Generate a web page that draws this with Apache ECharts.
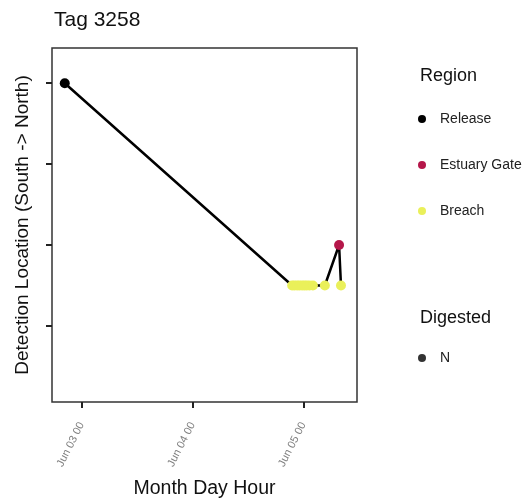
<!DOCTYPE html>
<html>
<head>
<meta charset="utf-8">
<script src="https://cdn.jsdelivr.net/npm/echarts@6/dist/echarts.min.js"></script>
<style>
html,body{margin:0;padding:0;background:#fff;}
#chart{width:532px;height:504px;}
</style>
</head>
<body>
<div id="chart"></div>
<script>
// Regions (South -> North position on the y scale)
const regionNames = ['Release', 'Estuary Gate', 'Breach'];
const regionLevels = [4, 2, 1.5];
const regionColors = ['#000000', '#B5174A', '#EAF05A'];

// Detections in time order
const detTimes = [
  '2021-06-02 20:20',
  '2021-06-04 21:35', '2021-06-04 22:05', '2021-06-04 22:40', '2021-06-04 23:10',
  '2021-06-04 23:45', '2021-06-05 00:15', '2021-06-05 00:45', '2021-06-05 01:20',
  '2021-06-05 02:05', '2021-06-05 04:40',
  '2021-06-05 07:45',
  '2021-06-05 08:10'
];
const detRegions = [
  'Release',
  'Breach', 'Breach', 'Breach', 'Breach',
  'Breach', 'Breach', 'Breach', 'Breach',
  'Breach', 'Breach',
  'Estuary Gate',
  'Breach'
];

// Digested legend
const digestedLevels = ['N'];

// Axis ticks
const xTickTimes = ['2021-06-03 00:00', '2021-06-04 00:00', '2021-06-05 00:00'];
const xTickLabels = ['Jun 03 00', 'Jun 04 00', 'Jun 05 00'];
const yTickValues = [1, 2, 3, 4];

function ts(s) {
  const [d, t] = s.split(' ');
  const [Y, M, D] = d.split('-').map(Number);
  const [h, m] = t.split(':').map(Number);
  return Date.UTC(Y, M - 1, D, h, m) / 3600000; // hours
}
const levelOf = r => regionLevels[regionNames.indexOf(r)];
const xTicks = xTickTimes.map(ts);

const pathData = detTimes.map((t, i) => [ts(t), levelOf(detRegions[i])]);

const regionSeries = regionNames.map((name, k) => ({
  name: name,
  type: 'scatter',
  symbol: 'circle',
  symbolSize: 10,
  itemStyle: { color: regionColors[k], opacity: 1 },
  z: 3,
  data: detTimes.map((t, i) => detRegions[i] === name ? [ts(t), levelOf(name)] : null).filter(Boolean)
}));

const chart = echarts.init(document.getElementById('chart'), null, { renderer: 'canvas' });
const FONT = 'Liberation Sans, Arial, sans-serif';

chart.setOption({
  animation: false,
  backgroundColor: '#ffffff',
  textStyle: { fontFamily: FONT },
  title: [
    { text: 'Tag 3258', left: 49, top: 5, textStyle: { fontFamily: FONT, fontSize: 21, fontWeight: 'normal', color: '#111' } },
    { text: 'Region', left: 415, top: 62, textStyle: { fontFamily: FONT, fontSize: 18, fontWeight: 'normal', color: '#111' } },
    { text: 'Digested', left: 415, top: 304, textStyle: { fontFamily: FONT, fontSize: 18, fontWeight: 'normal', color: '#111' } }
  ],
  legend: [
    {
      data: regionNames.map(n => ({ name: n, icon: 'circle' })),
      orient: 'vertical',
      left: 413, top: 107,
      itemWidth: 8, itemHeight: 8,
      itemGap: 32,
      selectedMode: false,
      textStyle: { fontFamily: FONT, fontSize: 14, color: '#222', padding: [0, 0, 0, 9] }
    },
    {
      data: digestedLevels.map(n => ({ name: n, icon: 'circle', itemStyle: { color: '#000' } })),
      orient: 'vertical',
      left: 413, top: 346,
      itemWidth: 8, itemHeight: 8,
      selectedMode: false,
      textStyle: { fontFamily: FONT, fontSize: 14, color: '#222', padding: [0, 0, 0, 9] }
    }
  ],
  grid: {
    left: 52, right: 175, top: 48, bottom: 101,
    show: true, borderColor: '#333', borderWidth: 1.5, backgroundColor: '#fff'
  },
  xAxis: {
    type: 'value',
    min: ts('2021-06-02 17:34'),
    max: ts('2021-06-05 11:38'),
    name: 'Month Day Hour',
    nameLocation: 'middle',
    nameGap: 77,
    nameTextStyle: { fontFamily: FONT, fontSize: 19.5, color: '#111' },
    axisLine: { show: false },
    splitLine: { show: false },
    axisTick: { show: true, customValues: xTicks, length: 6, lineStyle: { color: '#222', width: 2 } },
    axisLabel: {
      customValues: xTicks,
      rotate: 63,
      margin: 21,
      fontFamily: FONT,
      fontSize: 11,
      color: '#808080',
      formatter: function (v) {
        let best = -1, bd = 1e9;
        xTicks.forEach((x, i) => { const d = Math.abs(x - v); if (d < bd) { bd = d; best = i; } });
        return bd < 0.01 ? xTickLabels[best] : '';
      }
    }
  },
  yAxis: {
    type: 'value',
    min: 0.06,
    max: 4.435,
    name: 'Detection Location (South -> North)',
    nameLocation: 'middle',
    nameGap: 20,
    nameTextStyle: { fontFamily: FONT, fontSize: 19, color: '#111' },
    axisLine: { show: false },
    splitLine: { show: false },
    axisTick: { show: true, customValues: yTickValues, length: 6, lineStyle: { color: '#222', width: 2 } },
    axisLabel: { show: false }
  },
  series: [
    {
      name: 'path',
      type: 'line',
      data: pathData,
      showSymbol: false,
      symbol: 'none',
      lineStyle: { color: '#000', width: 2.5 },
      z: 2,
      silent: true
    },
    ...regionSeries,
    {
      name: 'N',
      type: 'scatter',
      symbol: 'circle',
      itemStyle: { color: '#000' },
      data: []
    }
  ]
});
</script>
</body>
</html>
